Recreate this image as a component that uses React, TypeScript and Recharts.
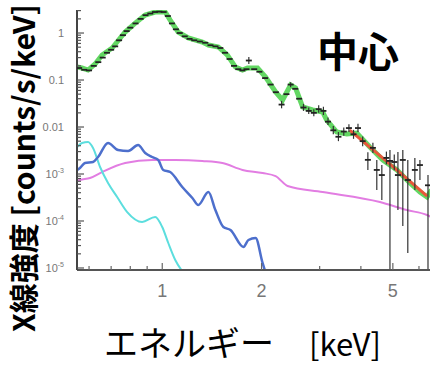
import React from 'react';
import { ComposedChart, Line, Scatter, XAxis, YAxis, ErrorBar } from 'recharts';

// ---- data (energy keV, counts/s/keV) ----
const greenModel: [number, number][] = [
  [0.552, 0.19], [0.571, 0.18], [0.596, 0.163], [0.626, 0.219], [0.657, 0.34], [0.705, 0.48],
  [0.772, 1.05], [0.828, 1.63], [0.888, 2.41], [0.952, 2.8], [1.021, 2.8], [1.057, 1.89],
  [1.118, 1.05], [1.2, 0.783], [1.323, 0.644], [1.38, 0.556], [1.48, 0.504], [1.576, 0.34],
  [1.667, 0.189], [1.751, 0.163], [1.813, 0.18], [1.945, 0.18], [2.057, 0.116], [2.206, 0.0556],
  [2.316, 0.0375], [2.449, 0.0783], [2.536, 0.0676], [2.664, 0.0267], [2.857, 0.023], [3.064, 0.0209],
  [3.151, 0.0141], [3.38, 0.00783], [3.626, 0.0071], [3.888, 0.00745], [4.258, 0.00375],
  [4.664, 0.00199], [5.144, 0.00122], [5.634, 0.000644], [6.042, 0.000414], [6.345, 0.000324],
  [6.55, 0.000457],
];

const redModel: [number, number][] = [
  [3.7, 0.0086], [4.9, 0.00163], [6.35, 0.00034],
];

const magentaModel: [number, number][] = [
  [0.552, 0.00071], [0.563, 0.000745], [0.604, 0.000822], [0.657, 0.0011], [0.772, 0.00171],
  [0.932, 0.00199], [1.095, 0.00199], [1.323, 0.00189], [1.522, 0.00171], [1.751, 0.00122],
  [2.014, 0.00105], [2.206, 0.0009], [2.399, 0.000556], [3.064, 0.000414], [4.567, 0.000254],
  [5.516, 0.000171], [6.345, 0.000134], [6.617, 0.000116],
];

const blueModel: [number, number][] = [
  [0.552, 0.00122], [0.563, 0.00134], [0.583, 0.00171], [0.617, 0.0018], [0.639, 0.0023],
  [0.685, 0.00457], [0.735, 0.00324], [0.788, 0.00309], [0.845, 0.00414], [0.888, 0.0028],
  [0.932, 0.0023], [0.972, 0.00199], [1.007, 0.00122], [1.057, 0.0011], [1.15, 0.000529],
  [1.234, 0.000309], [1.286, 0.000219], [1.38, 0.000414], [1.449, 0.000171], [1.532, 0.0000745],
  [1.61, 0.0000644], [1.763, 0.000028], [1.825, 0.0000394], [1.918, 0.0000435], [2.014, 0.0000128],
  [2.057, 0.000008],
];

const cyanModel: [number, number][] = [
  [0.552, 0.00375], [0.571, 0.00457], [0.596, 0.0048], [0.617, 0.00357], [0.648, 0.00141],
  [0.685, 0.000644], [0.73, 0.000324], [0.783, 0.000155], [0.869, 0.0000953], [0.952, 0.000122],
  [1.0, 0.0000745], [1.043, 0.000034], [1.095, 0.0000148], [1.15, 0.0000085],
];

// observed spectrum: [energy, value, lower, upper] (null = error hidden by the band)
const observed: [number, number, number | null, number | null][] = [
  [0.56, 0.18, null, null], [0.58, 0.165, null, null], [0.6, 0.16, null, null], [0.62, 0.2, null, null],
  [0.64, 0.24, null, null], [0.66, 0.3, null, null], [0.68, 0.38, null, null], [0.7, 0.44, null, null],
  [0.72, 0.52, null, null], [0.74, 0.7, null, null], [0.76, 0.9, null, null], [0.78, 1.1, null, null],
  [0.8, 1.3, null, null], [0.83, 1.6, null, null], [0.86, 2.0, null, null], [0.89, 2.4, null, null],
  [0.92, 2.6, null, null], [0.95, 2.8, null, null], [0.98, 2.85, null, null], [1.01, 2.8, null, null],
  [1.04, 2.3, null, null], [1.07, 1.6, null, null], [1.1, 1.2, null, null], [1.13, 1.0, null, null],
  [1.17, 0.85, null, null], [1.21, 0.75, null, null], [1.25, 0.7, null, null], [1.3, 0.66, null, null],
  [1.35, 0.62, null, null], [1.4, 0.55, null, null], [1.45, 0.52, null, null], [1.5, 0.48, null, null],
  [1.55, 0.38, null, null], [1.6, 0.28, null, null], [1.65, 0.2, null, null], [1.7, 0.17, null, null],
  [1.75, 0.16, null, null], [1.8, 0.17, null, null], [1.83, 0.26, 0.22, 0.31], [1.9, 0.17, null, null],
  [1.97, 0.15, null, null], [2.05, 0.11, null, null], [2.13, 0.08, null, null], [2.21, 0.055, null, null],
  [2.3, 0.03, 0.025, 0.036], [2.38, 0.05, null, null], [2.45, 0.08, 0.07, 0.09], [2.53, 0.065, null, null],
  [2.6, 0.04, null, null], [2.68, 0.026, 0.022, 0.031], [2.78, 0.022, 0.019, 0.026], [2.88, 0.02, 0.017, 0.024],
  [2.98, 0.024, 0.02, 0.029], [3.08, 0.022, 0.018, 0.027], [3.18, 0.013, 0.011, 0.016],
  [3.3, 0.0085, 0.007, 0.0105], [3.42, 0.0062, 0.005, 0.0078], [3.55, 0.008, 0.0065, 0.0098],
  [3.68, 0.0095, 0.0078, 0.0115], [3.8, 0.007, 0.0056, 0.0087], [3.92, 0.0095, 0.0078, 0.0118],
  [4.05, 0.005, 0.0039, 0.0063], [4.2, 0.002, 0.00122, 0.0029], [4.35, 0.0036, 0.0028, 0.0046],
  [4.47, 0.00122, 0.000457, 0.00199], [4.63, 0.00095, 0.00028, 0.00155], [4.78, 0.0022, 0.0016, 0.003],
  [4.9, 0.0019, 0.0000091, 0.00324], [5.05, 0.0018, 0.0012, 0.0026], [5.18, 0.00095, 0.000171, 0.00294],
  [5.36, 0.00199, 0.0000783, 0.00324], [5.55, 0.000745, 0.0000209, 0.00199], [5.83, 0.00122, 0.000457, 0.00218],
  [6.04, 0.00155, 0.000745, 0.00199], [6.39, 0.000575, 0.0000091, 0.00095],
];

const yMajorTicks = [1e-5, 1e-4, 1e-3, 0.01, 0.1, 1];
const yMajorLabels: [string, string][] = [
  ['10', '-5'], ['10', '-4'], ['10', '-3'], ['0.01', ''], ['0.1', ''], ['1', ''],
];
const xTickValues = [0.6, 0.7, 0.8, 0.9, 1, 2, 3, 4, 5, 6];
const xTickLabels: Record<string, string> = { '1': '1', '2': '2', '5': '5' };

const X_DOMAIN: [number, number] = [0.5516, 6.48];
const Y_DOMAIN: [number, number] = [9.06e-6, 3.09];

const yMinorTicks: number[] = [];
for (let d = -5; d <= 0; d++) {
  for (let m = 2; m <= 9; m++) {
    const v = m * Math.pow(10, d);
    if (v < Y_DOMAIN[1]) yMinorTicks.push(v);
  }
}
const yAllTicks = [...yMajorTicks, ...yMinorTicks].sort((a, b) => a - b);

const toPts = (arr: [number, number][]) => arr.map(([x, y]) => ({ x, y }));
const obsPts = observed.map(([x, y, lo, hi]) => ({
  x, y, err: lo == null || hi == null ? [0, 0] : [y - lo, hi - y],
}));

const majorIndex = (v: number) =>
  yMajorTicks.findIndex((t) => Math.abs(Math.log10(v) - Math.log10(t)) < 1e-6);

const LeftTick = (props: any) => {
  const { x, y, payload } = props;
  const idx = majorIndex(payload.value as number);
  const lab = idx >= 0 ? yMajorLabels[idx] : null;
  return (
    <g>
      <line x1={x} x2={x + (idx >= 0 ? 7 : 4)} y1={y} y2={y} stroke="#555" strokeWidth={1.2} />
      {lab && (
        <text x={64} y={y} textAnchor="end" dominantBaseline="central" fontSize={11}
          fontFamily="Liberation Sans Narrow, Liberation Sans, sans-serif" fill="#777">
          {lab[0]}
          {lab[1] && <tspan fontSize={7} dy={-4}>{lab[1]}</tspan>}
        </text>
      )}
    </g>
  );
};

const RightTick = (props: any) => {
  const { x, y, payload } = props;
  const major = majorIndex(payload.value) >= 0;
  return <line x1={x} x2={x - (major ? 7 : 4)} y1={y} y2={y} stroke="#aaa" strokeWidth={1} />;
};

const BottomTick = (props: any) => {
  const { x, y, payload } = props;
  const lab = xTickLabels[String(payload.value)];
  return (
    <g>
      <line x1={x} x2={x} y1={y} y2={y - (lab ? 7 : 4)} stroke="#666" strokeWidth={1.2} />
      {lab && (
        <text x={x} y={291} textAnchor="middle" dominantBaseline="central" fontSize={18}
          fontFamily="Liberation Sans Narrow, Liberation Sans, sans-serif" fill="#777">
          {lab}
        </text>
      )}
    </g>
  );
};

const TopTick = (props: any) => {
  const { x, y, payload } = props;
  const lab = xTickLabels[String(payload.value)];
  return <line x1={x} x2={x} y1={y} y2={y + (lab ? 7 : 4)} stroke="#777" strokeWidth={1.2} />;
};

const DataMark = (props: any) => {
  const { cx, cy } = props;
  if (cx == null || cy == null) return <g />;
  return <line x1={cx - 3} x2={cx + 3} y1={cy} y2={cy} stroke="#222" strokeWidth={1.8} />;
};

export default function App() {
  return (
    <div style={{ position: 'absolute', left: 0, top: 0, width: 434, height: 367, background: '#fff' }}>
      <ComposedChart width={434} height={367} margin={{ top: 10, right: 4, bottom: 67, left: 0 }}>
        <XAxis xAxisId="b" dataKey="x" type="number" scale="log" domain={X_DOMAIN} allowDataOverflow
          ticks={xTickValues} interval={0} tick={<BottomTick />} tickSize={0} tickMargin={0} tickLine={false}
          axisLine={{ stroke: '#555', strokeWidth: 2 }} height={30} orientation="bottom" />
        <XAxis xAxisId="t" dataKey="x" type="number" scale="log" domain={X_DOMAIN} allowDataOverflow
          ticks={xTickValues} interval={0} tick={<TopTick />} tickSize={0} tickMargin={0} tickLine={false}
          axisLine={{ stroke: '#444', strokeWidth: 2 }} height={0} orientation="top" />
        <YAxis yAxisId="l" type="number" scale="log" domain={Y_DOMAIN} allowDataOverflow
          ticks={yAllTicks} interval={0} tick={<LeftTick />} tickSize={0} tickMargin={0} tickLine={false}
          axisLine={{ stroke: '#444', strokeWidth: 2 }} width={77} orientation="left" />
        <YAxis yAxisId="r" type="number" scale="log" domain={Y_DOMAIN} allowDataOverflow
          ticks={yAllTicks} interval={0} tick={<RightTick />} tickSize={0} tickMargin={0} tickLine={false}
          axisLine={{ stroke: '#bbb', strokeWidth: 1, strokeDasharray: '2 2' }} width={0} orientation="right" />

        <Line xAxisId="b" yAxisId="l" data={toPts(magentaModel)} dataKey="y" type="monotone"
          stroke="#e27de2" strokeWidth={2} dot={false} isAnimationActive={false} />
        <Line xAxisId="b" yAxisId="l" data={toPts(cyanModel)} dataKey="y" type="monotone"
          stroke="#5cdede" strokeWidth={2} dot={false} isAnimationActive={false} />
        <Line xAxisId="b" yAxisId="l" data={toPts(blueModel)} dataKey="y" type="monotone"
          stroke="#4d6fcc" strokeWidth={2.5} dot={false} isAnimationActive={false} />
        <Line xAxisId="b" yAxisId="l" data={toPts(greenModel)} dataKey="y" type="linear"
          stroke="#52d352" strokeWidth={5} strokeOpacity={0.9} dot={false} isAnimationActive={false} />
        <Line xAxisId="b" yAxisId="l" data={toPts(redModel)} dataKey="y" type="linear"
          stroke="#e8573a" strokeWidth={3} dot={false} isAnimationActive={false} />
        <Scatter xAxisId="b" yAxisId="l" data={obsPts} dataKey="y" shape={<DataMark />} isAnimationActive={false}>
          <ErrorBar dataKey="err" direction="y" width={0} stroke="#333" strokeWidth={1.2} />
        </Scatter>
      </ComposedChart>
      <svg width={434} height={367} style={{ position: 'absolute', left: 0, top: 0, pointerEvents: 'none' }}>
        <text x={317} y={67} fontSize={41} fontWeight={700} fontFamily="Noto Sans CJK JP, sans-serif" fill="#000">
          中心
        </text>
        <text x={22} y={332} transform="rotate(-90, 22, 332)" textAnchor="start" dominantBaseline="central"
          fontSize={30} fontWeight={700} fontFamily="Noto Sans CJK JP, sans-serif" fill="#000">
          X線強度 [counts/s/keV]
        </text>
        <text x={104} y={356} fontSize={34} fontFamily="Noto Sans CJK JP, sans-serif" fill="#000">
          エネルギー
        </text>
        <text x={309} y={356} fontSize={31} fontFamily="Noto Sans CJK JP, sans-serif" fill="#000">
          [keV]
        </text>
      </svg>
    </div>
  );
}
